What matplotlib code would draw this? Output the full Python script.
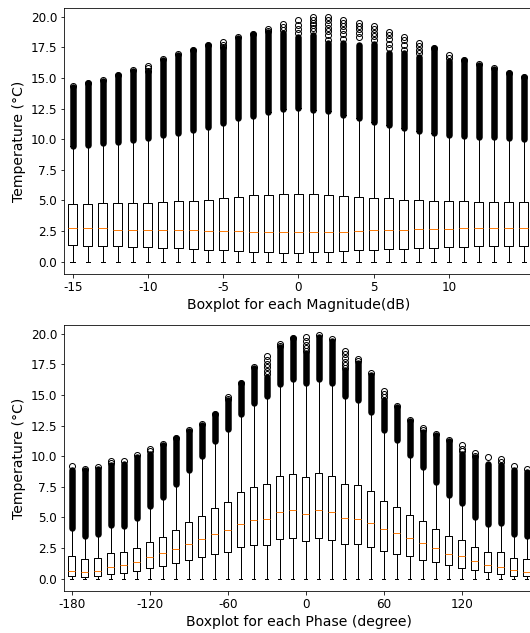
import matplotlib.pyplot as plt

# Top panel: temperature per magnitude bin (dB)
mag = list(range(-15, 16))
q1_top = [1.34, 1.26, 1.26, 1.26, 1.18, 1.18, 1.10, 1.10, 1.01, 0.94, 0.94, 0.87, 0.80, 0.80, 0.72, 0.73,
          0.80, 0.80, 0.87, 0.94, 0.94, 1.01, 1.01, 1.10, 1.10, 1.18, 1.18, 1.26, 1.26, 1.26, 1.26]
med_top = [2.72, 2.72, 2.72, 2.59, 2.59, 2.59, 2.59, 2.59, 2.59, 2.53, 2.53, 2.53, 2.45, 2.45, 2.45, 2.45,
           2.45, 2.45, 2.45, 2.53, 2.59, 2.59, 2.59, 2.67, 2.67, 2.67, 2.75, 2.75, 2.75, 2.75, 2.75]
q3_top = [4.68, 4.68, 4.77, 4.77, 4.82, 4.82, 4.90, 4.98, 4.98, 5.06, 5.22, 5.30, 5.42, 5.47, 5.53, 5.53,
          5.53, 5.44, 5.36, 5.28, 5.20, 5.20, 5.06, 5.06, 4.98, 4.98, 4.98, 4.90, 4.90, 4.90, 4.90]
whi_top = [9.44, 9.53, 9.72, 9.80, 9.93, 10.12, 10.34, 10.53, 10.75, 10.97, 11.30, 11.70, 11.92, 12.24, 12.47, 12.52,
           12.38, 12.33, 11.98, 11.70, 11.43, 11.16, 10.89, 10.67, 10.53, 10.34, 10.26, 10.20, 10.20, 10.12, 10.02]
# top of the dense outlier column
band_top = [14.24, 14.55, 14.78, 15.20, 15.60, 15.50, 16.45, 16.88, 17.25, 17.65, 17.40, 18.28, 18.55, 18.75, 18.65, 18.37,
            18.50, 17.83, 17.83, 17.69, 17.80, 17.01, 17.01, 16.73, 17.40, 16.40, 16.42, 16.08, 15.75, 15.40, 15.08]
# single outliers standing above the dense column
extra_top = {
    -15: [14.34], -14: [14.61], -13: [14.83], -12: [15.24], -11: [15.65],
    -10: [16.0, 15.8, 15.6], -9: [16.52], -8: [16.93], -7: [17.28], -6: [17.69],
    -5: [17.96, 17.7, 17.5], -4: [18.32], -3: [18.59], -2: [19.0, 18.85],
    -1: [19.4, 19.15, 18.9], 0: [19.73, 19.3, 19.0, 18.7],
    1: [19.95, 19.7, 19.5, 19.3, 19.1, 18.8], 2: [19.95, 19.7, 19.4, 19.1, 18.8, 18.5, 18.1],
    3: [19.73, 19.45, 19.2, 18.9, 18.6, 18.2], 4: [19.51, 19.25, 19.0, 18.7, 18.3],
    5: [19.24, 19.0, 18.7, 18.4, 18.1], 6: [18.78, 18.5, 18.2, 17.8, 17.4],
    7: [18.37, 18.1, 17.7, 17.3], 8: [17.88, 17.6, 17.3, 17.0], 9: [17.42],
    10: [16.87, 16.6], 11: [16.46], 12: [16.11], 13: [15.78], 14: [15.43], 15: [15.10],
}
mag_ticks = [-15, -10, -5, 0, 5, 10]

# Bottom panel: temperature per phase bin (degree)
phase = list(range(-180, 180, 10))
q1_bot = [0.19, 0.16, 0.24, 0.41, 0.49, 0.65, 0.90, 1.06, 1.25, 1.49, 1.76, 2.04, 2.20, 2.56, 2.78, 2.78, 3.21, 3.29,
          3.07, 3.29, 3.18, 2.86, 2.86, 2.61, 2.23, 2.04, 1.82, 1.52, 1.33, 1.09, 0.90, 0.70, 0.54, 0.38, 0.24, 0.19]
med_bot = [0.65, 0.57, 0.65, 0.98, 1.11, 1.36, 1.77, 2.07, 2.39, 2.86, 3.27, 3.64, 3.97, 4.43, 4.82, 4.90, 5.41, 5.58,
           5.31, 5.58, 5.47, 4.98, 4.90, 4.51, 4.05, 3.72, 3.35, 2.94, 2.47, 2.04, 1.82, 1.47, 1.14, 0.98, 0.73, 0.57]
q3_bot = [1.82, 1.63, 1.68, 2.07, 2.15, 2.47, 3.02, 3.40, 4.00, 4.60, 5.14, 5.79, 6.28, 7.04, 7.50, 7.75, 8.38, 8.57,
          8.29, 8.62, 8.41, 7.75, 7.67, 7.13, 6.34, 5.88, 5.22, 4.68, 4.05, 3.51, 3.13, 2.56, 2.15, 2.15, 1.71, 1.63]
whi_bot = [4.13, 3.45, 3.62, 4.41, 4.33, 4.95, 5.93, 6.69, 7.75, 8.90, 10.01, 11.20, 12.19, 13.41, 14.37, 14.90, 15.86, 16.29,
           15.97, 16.33, 15.97, 14.94, 14.61, 13.58, 12.16, 11.29, 10.07, 9.11, 7.89, 6.80, 6.17, 5.03, 4.43, 4.54, 3.67, 3.45]
band_bot = [8.90, 8.85, 8.95, 9.30, 9.40, 9.90, 10.20, 10.90, 11.45, 12.05, 12.55, 13.40, 14.55, 15.95, 17.20, 16.46, 18.90, 19.60,
            18.40, 19.70, 19.40, 17.00, 17.60, 16.60, 14.55, 14.00, 12.90, 11.97, 11.75, 11.20, 10.20, 9.90, 9.40, 9.30, 8.90, 8.70]
extra_bot = {
    -180: [9.19], -170: [8.92], -160: [9.09], -150: [9.6, 9.45], -140: [9.58], -130: [10.07],
    -120: [10.61, 10.4], -110: [10.96], -100: [11.51], -90: [12.11], -80: [12.60], -70: [13.47],
    -60: [14.83, 14.7], -50: [16.00], -40: [17.27], -30: [18.15, 17.85, 17.55, 17.25, 16.95, 16.7],
    -20: [19.13, 18.95], -10: [19.67], 0: [19.72, 19.4, 19.1, 18.8, 18.6], 10: [19.86],
    20: [19.54], 30: [18.58, 18.3, 18.0, 17.7, 17.4, 17.2], 40: [17.96, 17.75], 50: [16.78],
    60: [15.31, 15.05, 14.8], 70: [14.07], 80: [12.98], 90: [12.33, 12.1], 100: [11.84],
    110: [11.29], 120: [10.88, 10.6, 10.4], 130: [10.25, 10.0], 140: [9.93], 150: [9.80, 9.55],
    160: [9.19], 170: [8.98],
}
phase_ticks = [-180, -120, -60, 0, 60, 120]

y_ticks = [0.0, 2.5, 5.0, 7.5, 10.0, 12.5, 15.0, 17.5, 20.0]


def make_stats(pos, q1, med, q3, whi, extra):
    stats = []
    for p, a, m, b, w in zip(pos, q1, med, q3, whi):
        stats.append({'whislo': 0.0, 'q1': a, 'med': m, 'q3': b, 'whishi': w, 'fliers': extra.get(p, [])})
    return stats


def draw_panel(ax, pos, stats, whi, band, width, ticks, xlabel, xlim):
    # dense outliers overlap into a solid column
    ax.vlines(pos, whi, band, colors='black', linewidth=6.5, capstyle='round', zorder=1)
    ax.bxp(stats, positions=pos, widths=width, manage_ticks=False,
           medianprops=dict(color='#ff7f0e', linewidth=1),
           flierprops=dict(marker='o', markerfacecolor='none', markeredgecolor='black', markersize=6))
    ax.set_xlim(*xlim)
    ax.set_ylim(-1.0, 20.7)
    ax.set_xticks(ticks)
    ax.set_xticklabels([str(t) for t in ticks])
    ax.set_yticks(y_ticks)
    ax.set_yticklabels(['%.1f' % t for t in y_ticks])
    ax.tick_params(labelsize=12)
    ax.set_xlabel(xlabel, fontsize=14)
    ax.set_ylabel('Temperature (°C)', fontsize=14)


fig = plt.figure(figsize=(530 / 72, 633 / 72), dpi=72)
ax1 = fig.add_axes([64 / 530, 1 - 274 / 633, 469 / 530, 266 / 633])
ax2 = fig.add_axes([64 / 530, 1 - 591 / 633, 470.5 / 530, 266 / 633])

draw_panel(ax1, mag, make_stats(mag, q1_top, med_top, q3_top, whi_top, extra_top), whi_top, band_top,
           0.6, mag_ticks, 'Boxplot for each Magnitude(dB)', (-15.58, 15.6))
draw_panel(ax2, phase, make_stats(phase, q1_bot, med_bot, q3_bot, whi_bot, extra_bot), whi_bot, band_bot,
           5.2, phase_ticks, 'Boxplot for each Phase (degree)', (-185.9, 176.0))

fig.savefig('out.png', dpi=72)
